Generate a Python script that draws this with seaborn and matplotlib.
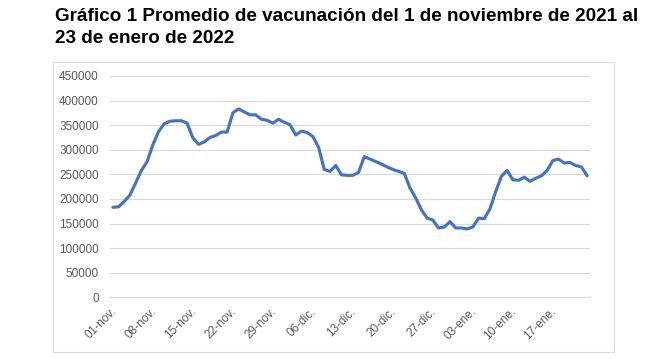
import pandas as pd
import matplotlib.pyplot as plt
import matplotlib.patches as mpatches
import seaborn as sns


# datos diarios del 1 de noviembre 2021 al 23 de enero 2022
dias = pd.date_range('2021-11-01', '2022-01-23', freq='D')
vacunas = [183000, 184000, 195000, 208000, 233000, 258000, 276000, 310000, 337000, 353000,
           358000, 359000, 359000, 354000, 324000, 311000, 316000, 325000, 329000, 336000,
           336000, 375000, 383000, 377000, 371000, 371000, 362000, 360000, 354000, 362000,
           356000, 351000, 330000, 338000, 335000, 327000, 305000, 260000, 256000, 268000,
           249000, 248000, 248000, 254000, 286000, 281000, 276000, 271000, 265000, 260000,
           256000, 252000, 222000, 202000, 178000, 161000, 157000, 141000, 143000, 154000,
           141000, 141000, 139000, 143000, 161000, 160000, 180000, 215000, 246000, 258000,
           239000, 238000, 244000, 236000, 242000, 247000, 258000, 278000, 281000, 273000,
           274000, 268000, 265000, 247000]
etiquetas = ['01-nov.', '08-nov.', '15-nov.', '22-nov.', '29-nov.', '06-dic.',
             '13-dic.', '20-dic.', '27-dic.', '03-ene.', '10-ene.', '17-ene.']
y_ticks = [0, 50000, 100000, 150000, 200000, 250000, 300000, 350000, 400000, 450000]

titulo1 = 'Gráfico 1 Promedio de vacunación del 1 de noviembre de 2021 al'
titulo2 = '23 de enero de 2022'

df = pd.DataFrame({'fecha': dias + pd.Timedelta(hours=12), 'vacunas': vacunas})

sns.set_style('white')
plt.rcParams['font.family'] = ['Liberation Sans', 'DejaVu Sans']

fig = plt.figure(figsize=(6.5, 3.59), dpi=100)

# marco del grafico
fig.patches.append(mpatches.Rectangle((53/650, 1-352/359), 561/650, 290/359,
                                      transform=fig.transFigure, fill=False,
                                      edgecolor='#d9d9d9', linewidth=0.8))

ax = fig.add_axes([110/650, 1-297.3/359, 480/650, 221.3/359])
sns.lineplot(data=df, x='fecha', y='vacunas', color='#4472C4', linewidth=2.25, ax=ax)

ax.set_xlim(dias[0], dias[-1] + pd.Timedelta(days=1))
ticks = pd.date_range('2021-11-01', periods=13, freq='7D')
ax.set_xticks(ticks)
ax.set_xticklabels(etiquetas + [''], rotation=45, ha='right', va='top',
                   rotation_mode='anchor', fontsize=8.5, color='#595959')
ax.set_ylim(0, 450000)
ax.set_yticks(y_ticks)
ax.set_yticklabels([str(v) for v in y_ticks], fontsize=8.5, color='#595959')
ax.set_xlabel('')
ax.set_ylabel('')

ax.yaxis.grid(True, color='#d9d9d9', linewidth=0.8)
ax.xaxis.grid(False)
for s in ['left', 'right', 'top']:
    ax.spines[s].set_visible(False)
ax.spines['bottom'].set_color('#d9d9d9')
ax.spines['bottom'].set_linewidth(0.8)
ax.tick_params(axis='x', length=4, width=0.8, color='#d9d9d9', pad=2)
ax.tick_params(axis='y', length=0, pad=8)

fig.text(55/650, 1-21/359, titulo1, ha='left', va='baseline', fontsize=13.6,
         fontweight='bold', color='black')
fig.text(55/650, 1-43/359, titulo2, ha='left', va='baseline', fontsize=13.6,
         fontweight='bold', color='black')

fig.savefig('out.png', dpi=100)
